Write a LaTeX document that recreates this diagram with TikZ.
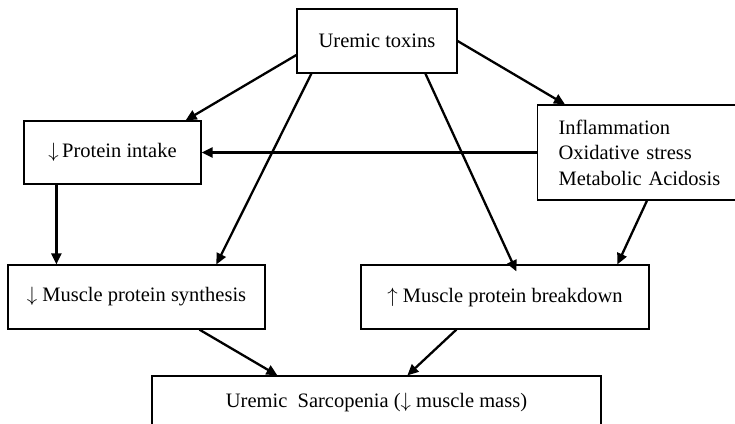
\documentclass[tikz,border=0pt]{standalone}
\usepackage{fontspec}
\setmainfont{Liberation Serif}
\usetikzlibrary{arrows.meta,calc}
\begin{document}
\begin{tikzpicture}[x=1pt,y=-1pt,
  font=\fontsize{20.5}{25.5}\selectfont,
  box/.style={draw, line width=1.2pt, rectangle, inner sep=0pt, align=center},
  link/.style={line width=2.3pt, -{Triangle[length=11pt,width=10pt]}}]
  % page size, fixed once
  \useasboundingbox (0,0) rectangle (735,423);
  \clip (0,0) rectangle (735,423);
  \fill[white] (0,0) rectangle (735,423);

  % boxes
  \node[box, minimum width=160, minimum height=64] (tox) at (377,41) {Uremic toxins};
  \node[box, minimum width=177, minimum height=63] (pin) at (112.5,152.5) {$\downarrow$\,Protein intake};
  \node[box, anchor=west, minimum height=95, inner xsep=21pt, text width=172, align=left] (inf) at (537,152.5)
    {Inflammation\\Oxidative stress\\Metabolic Acidosis};
  \node[box, minimum width=257, minimum height=64] (syn) at (136.5,297) {$\downarrow$ Muscle protein synthesis};
  \node[box, minimum width=288, minimum height=64] (brk) at (505,297) {$\uparrow$ Muscle protein breakdown};
  \node[box, minimum width=449, minimum height=52] (bot) at (376.5,402) {Uremic\ \ Sarcopenia ($\downarrow$ muscle mass)};

  % connectors
  \draw[link] ($(tox.west)+(0,14)$) -- ($(pin.north east)+(-16,0)$);
  \draw[link] (tox.east) -- ($(inf.north west)+(28,0)$);
  \draw[link] ($(tox.south west)+(15,0)$) -- ($(syn.north west)+(209,0)$);
  \draw[link] ($(tox.south west)+(129,0)$) -- ($(brk.north west)+(156,7)$);
  \draw[link] (inf.west) -- (pin.east);
  \draw[link] ($(inf.south west)+(110,0)$) -- ($(brk.north west)+(257,0)$);
  \draw[link] ($(pin.south west)+(33,0)$) -- ($(syn.north west)+(49,0)$);
  \draw[link] ($(syn.south west)+(192,0)$) -- ($(bot.north west)+(126,0)$);
  \draw[link] ($(brk.south west)+(96,0)$) -- ($(bot.north west)+(256,0)$);
\end{tikzpicture}
\end{document}
